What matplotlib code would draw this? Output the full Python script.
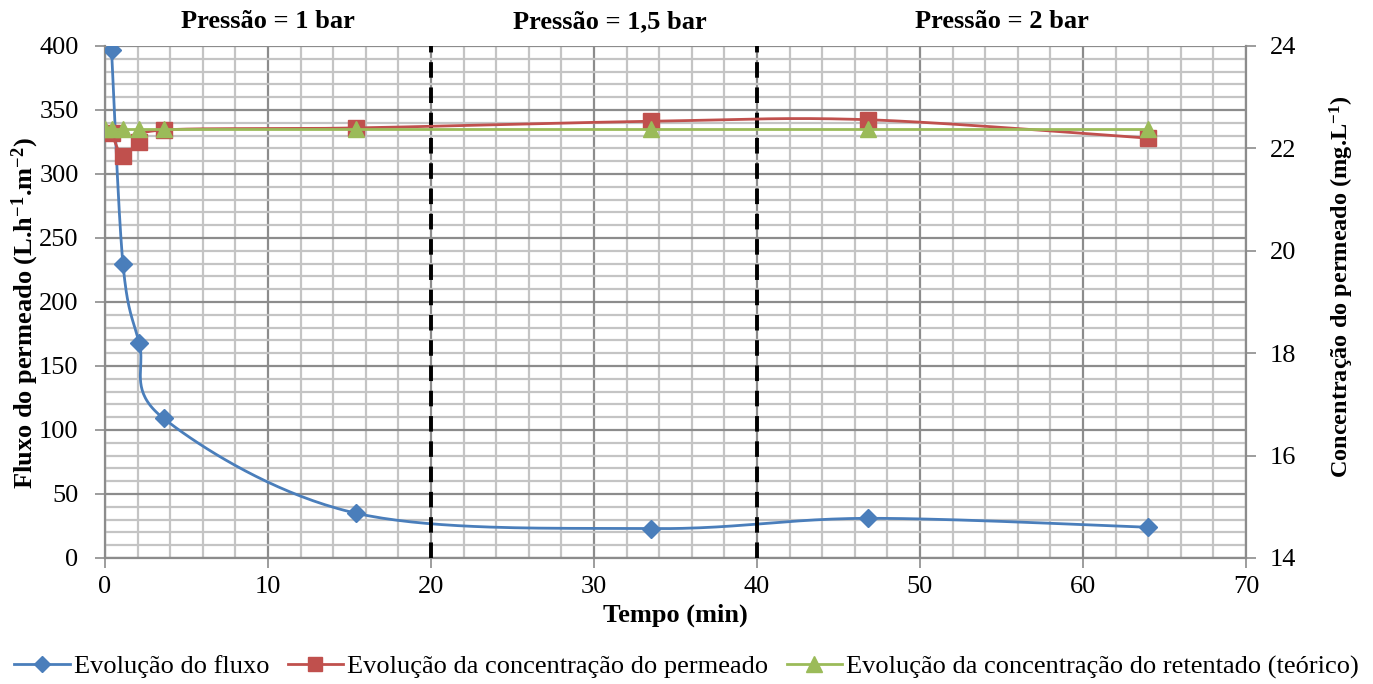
import numpy as np
import matplotlib
matplotlib.use("Agg")
import matplotlib.pyplot as plt
from matplotlib.lines import Line2D
from matplotlib.transforms import blended_transform_factory

plt.rcParams['font.family'] = ['Liberation Serif', 'DejaVu Serif']
plt.rcParams['mathtext.fontset'] = 'custom'
plt.rcParams['mathtext.rm'] = 'Liberation Serif'
plt.rcParams['mathtext.it'] = 'Liberation Serif:italic'
plt.rcParams['mathtext.bf'] = 'Liberation Serif:bold'

# Data
tempo_fluxo = [0.4, 1.1, 2.1, 3.6, 15.4, 33.5, 46.8, 64.0]
fluxo = [397, 230, 168, 109, 35, 23, 31, 24]

tempo_perm = [0.4, 1.1, 2.1, 3.6, 15.4, 33.5, 46.8, 64.0]
conc_perm = [22.30, 21.85, 22.13, 22.36, 22.40, 22.53, 22.56, 22.20]

tempo_ret = [0.0, 0.4, 1.1, 2.1, 3.6, 15.4, 33.5, 46.8, 64.0]
conc_ret = [22.38, 22.38, 22.38, 22.38, 22.38, 22.38, 22.38, 22.38, 22.38]

mudancas_pressao = [20, 40]
rotulos_pressao = ["Pressão = 1 bar", "Pressão = 1,5 bar", "Pressão = 2 bar"]
pos_rotulos = [10, 31, 55]

AZUL = "#4a7ebb"
VERMELHO = "#c0504d"
VERDE = "#9bbb59"
FS = 19

fig = plt.figure(figsize=(13.73, 6.84), dpi=100)
ax = fig.add_axes([105/1373, 1-558/684, (1246-105)/1373, (558-46)/684])
ax2 = ax.twinx()

ax.set_xlim(0, 70)
ax.set_ylim(0, 400)
ax2.set_ylim(14, 24)

# Grid
for xv in np.arange(0, 71, 2):
    major = xv % 10 == 0
    ax.axvline(xv, color="#8c8c8c" if major else "#c4c4c4", lw=1.6, zorder=0)
for yv in np.arange(0, 401, 10):
    major = yv % 50 == 0
    ax.axhline(yv, color="#8c8c8c" if major else "#c4c4c4", lw=1.6, zorder=0)


def smooth(axis, xs, ys, n=40):
    """Excel-style smoothed line: Catmull-Rom Bezier built in display space."""
    pts = axis.transData.transform(np.column_stack([xs, ys]))
    out = [pts[0]]
    m = len(pts)
    for i in range(m - 1):
        p0 = pts[i - 1] if i > 0 else pts[i]
        p1 = pts[i]
        p2 = pts[i + 1]
        p3 = pts[i + 2] if i + 2 < m else pts[i + 1]
        c1 = p1 + (p2 - p0) / 6.0
        c2 = p2 - (p3 - p1) / 6.0
        t = np.linspace(0, 1, n)[1:, None]
        seg = ((1 - t) ** 3) * p1 + 3 * ((1 - t) ** 2) * t * c1 + 3 * (1 - t) * t ** 2 * c2 + t ** 3 * p2
        out.extend(seg)
    out = np.array(out)
    d = axis.transData.inverted().transform(out)
    return d[:, 0], d[:, 1]


sx, sy = smooth(ax, tempo_fluxo, fluxo)
ax.plot(sx, sy, color=AZUL, lw=2, zorder=4, solid_capstyle="round")
ax.plot(tempo_fluxo, fluxo, ls="none", marker="D", ms=9, color=AZUL, zorder=5)

rx, ry = smooth(ax2, tempo_perm, conc_perm)
ax2.plot(rx, ry, color=VERMELHO, lw=2, zorder=3)
ax2.plot(tempo_perm, conc_perm, ls="none", marker="s", ms=11, color=VERMELHO, zorder=3)
gx, gy = smooth(ax2, tempo_ret, conc_ret)
ax2.plot(gx, gy, color=VERDE, lw=2, zorder=4)
ax2.plot(tempo_ret, conc_ret, ls="none", marker="^", ms=12, color=VERDE, zorder=4)

# Pressure change markers
for xv in mudancas_pressao:
    ax.axvline(xv, color="black", lw=2.8, ls=(0, (4, 2.5)), zorder=6)

trans = blended_transform_factory(ax.transData, ax.transAxes)
for xv, txt in zip(pos_rotulos, rotulos_pressao):
    ax.text(xv, 1.047, txt, transform=trans, ha="center", va="center",
            fontsize=FS, fontweight="bold")

# Axes styling
ax.set_xticks(np.arange(0, 71, 10))
ax.set_yticks(np.arange(0, 401, 50))
ax2.set_yticks(np.arange(14, 25, 2))
for a in (ax, ax2):
    for s in a.spines.values():
        s.set_visible(False)
    a.tick_params(labelsize=FS, length=7, width=1.2, color="#8c8c8c", direction="out", pad=4)
for a, side in ((ax, "left"), (ax, "bottom"), (ax2, "right")):
    a.spines[side].set_visible(True)
    a.spines[side].set_color("#8c8c8c")
    a.spines[side].set_linewidth(1.6)
ax.tick_params(axis="y", pad=12)
ax.tick_params(axis="x", pad=6)
ax2.tick_params(axis="y", pad=10)

ax.set_xlabel("Tempo (min)", fontsize=FS, fontweight="bold", labelpad=4)
ax.set_ylabel("Fluxo do permeado (L.h$^{\\mathbf{-1}}$.m$^{\\mathbf{-2}}$)",
              fontsize=FS, fontweight="bold", va="center")
ax.yaxis.set_label_coords(-0.070, 0.478)
ax2.set_ylabel("Concentração do permeado (mg.L$^{\\mathbf{-1}}$)",
               fontsize=17.5, fontweight="bold", va="center", rotation=90)
ax2.yaxis.set_label_coords(1.084, 0.529)

handles = [
    Line2D([], [], color=AZUL, lw=2, marker="D", ms=8),
    Line2D([], [], color=VERMELHO, lw=2, marker="s", ms=10),
    Line2D([], [], color=VERDE, lw=2, marker="^", ms=11),
]
labels = ["Evolução do fluxo", "Evolução da concentração do permeado",
          "Evolução da concentração do retentado (teórico)"]
fig.legend(handles, labels, loc="center", bbox_to_anchor=(0.5, 0.025), ncol=3,
           frameon=False, fontsize=FS, handlelength=2.1, handletextpad=0.15,
           columnspacing=0.7, borderaxespad=0)

fig.savefig("out.png", dpi=100)
